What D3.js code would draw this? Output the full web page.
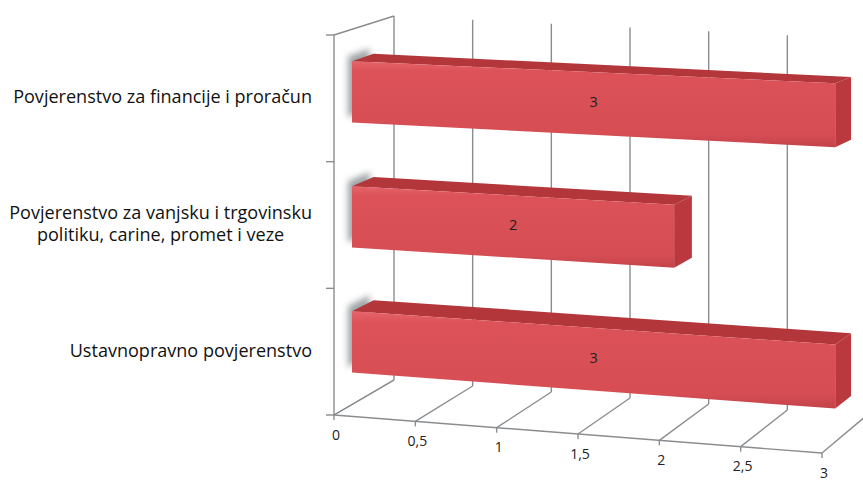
<!DOCTYPE html>
<html>
<head>
<meta charset="utf-8">
<script src="https://cdn.jsdelivr.net/npm/d3@7"></script>
<style>
  html, body { margin: 0; padding: 0; background: #ffffff; }
  svg { display: block; }
</style>
</head>
<body>
<svg id="chart" width="863" height="481"></svg>
<script>
// ---- data ----
const categories = [
  "Povjerenstvo za financije i proračun",
  "Povjerenstvo za vanjsku i trgovinsku politiku, carine, promet i veze",
  "Ustavnopravno povjerenstvo"
];
const categoryLines = [
  ["Povjerenstvo za financije i proračun"],
  ["Povjerenstvo za vanjsku i trgovinsku", "politiku, carine, promet i veze"],
  ["Ustavnopravno povjerenstvo"]
];
const values = [3, 2, 3];
const valueTicks = [0, 0.5, 1, 1.5, 2, 2.5, 3];

// ---- layout / projection ----
const svg = d3.select("#chart");
const vMax = 3;
const xFront = d3.scaleLinear().domain([0, vMax]).range([334, 822]);
const xBack = d3.scaleLinear().domain([0, vMax]).range([394, 866]);
const yFrontBottom = d3.scaleLinear().domain([0, vMax]).range([415, 453]);
const yFrontTop = d3.scaleLinear().domain([0, vMax]).range([35, 54.6]);
const yBackBottom = d3.scaleLinear().domain([0, vMax]).range([380, 416]);
const yBackTop = d3.scaleLinear().domain([0, vMax]).range([16, 39]);
const hBand = d3.scaleBand().domain(categories).range([1, 0])
  .paddingInner(0.51).paddingOuter(0.255);

const lerp = (a, b, t) => a + (b - a) * t;
function P(v, h, d) {
  const x = lerp(xFront(v), xBack(v), d);
  const yb = lerp(yFrontBottom(v), yBackBottom(v), d);
  const yt = lerp(yFrontTop(v), yBackTop(v), d);
  return [x, lerp(yb, yt, h)];
}
const poly = pts => "M" + pts.map(p => p[0].toFixed(2) + "," + p[1].toFixed(2)).join("L") + "Z";
const seg = (a, b) => "M" + a[0] + "," + a[1] + "L" + b[0] + "," + b[1];

const defs = svg.append("defs");
const blur = defs.append("filter").attr("id", "sh").attr("x", "-50%").attr("y", "-50%").attr("width", "200%").attr("height", "200%");
blur.append("feGaussianBlur").attr("stdDeviation", 3);
const grad = defs.append("linearGradient").attr("id", "frontGrad").attr("x1", 0).attr("y1", 0).attr("x2", 0).attr("y2", 1);
grad.append("stop").attr("offset", "0%").attr("stop-color", "#e6646a");
grad.append("stop").attr("offset", "12%").attr("stop-color", "#dc5258");
grad.append("stop").attr("offset", "85%").attr("stop-color", "#d64d54");
grad.append("stop").attr("offset", "100%").attr("stop-color", "#c4424a");

const gridColor = "#8a8d90";
const grid = svg.append("g").attr("fill", "none").attr("stroke", gridColor).attr("stroke-width", 1.4);

// back wall gridlines
valueTicks.forEach(v => grid.append("path").attr("d", seg(P(v, 0, 1), P(v, 1, 1))));
// left wall edges
grid.append("path").attr("d", seg(P(0, 0, 0), P(0, 1, 0)));
grid.append("path").attr("d", seg(P(0, 1, 0), P(0, 1, 1)));
grid.append("path").attr("d", seg(P(0, 0, 0), P(0, 0, 1)));
// category axis ticks
[0, 1 / 3, 2 / 3, 1].forEach(h => {
  const p = P(0, h, 0);
  grid.append("path").attr("d", seg([p[0] - 8, p[1]], p));
});
// floor
grid.append("path").attr("d", seg(P(0, 0, 0), P(vMax, 0, 0)));
valueTicks.forEach(v => {
  grid.append("path").attr("d", seg(P(v, 0, 0), P(v, 0, 1)));
  const p = P(v, 0, 0);
  grid.append("path").attr("d", seg(p, [p[0], p[1] + 5]));
});

const fontFam = "'Open Sans', Lato, sans-serif";
// value axis labels
const fmt = d3.formatLocale({decimal: ",", thousands: ".", grouping: [3], currency: ["", ""]}).format("~g");
svg.append("g").selectAll("text").data(valueTicks).join("text")
  .attr("x", v => P(v, 0, 0)[0] + 2)
  .attr("y", v => P(v, 0, 0)[1] + 21)
  .attr("text-anchor", "middle")
  .attr("dominant-baseline", "middle")
  .attr("font-family", fontFam)
  .attr("font-size", 14)
  .attr("fill", "#222")
  .text(v => fmt(v));

// bars
const d0 = 0.3, d1 = 0.66;
const bars = svg.append("g");
categories.forEach((c, i) => {
  const v = values[i];
  const h0 = hBand(c), h1 = h0 + hBand.bandwidth();
  const g = bars.append("g");
  // soft shadow at left end
  g.append("path")
    .attr("d", poly([P(0, h0, d0), P(0, h1, d0), P(0, h1, d1), P(0, h0, d1)]))
    .attr("transform", "translate(-4,-5)")
    .attr("fill", "#5f676c").attr("opacity", 0.6).attr("filter", "url(#sh)");
  // top face
  g.append("path").attr("d", poly([P(0, h1, d0), P(v, h1, d0), P(v, h1, d1), P(0, h1, d1)]))
    .attr("fill", "#b3363b");
  // side face
  g.append("path").attr("d", poly([P(v, h0, d0), P(v, h1, d0), P(v, h1, d1), P(v, h0, d1)]))
    .attr("fill", "#b9393f");
  // front face
  g.append("path").attr("d", poly([P(0, h0, d0), P(v, h0, d0), P(v, h1, d0), P(0, h1, d0)]))
    .attr("fill", "url(#frontGrad)");
  // value label
  const c0 = P(v / 2, (h0 + h1) / 2, d0);
  g.append("text").attr("x", c0[0]).attr("y", c0[1])
    .attr("text-anchor", "middle").attr("dominant-baseline", "middle")
    .attr("font-family", fontFam).attr("font-size", 14.5)
    .attr("fill", "#222").text(fmt(v));
});

// category labels (font size fitted so the first label spans the reference width)
const labelRight = 312, labelLeft = 13;
const lineH = 22;
const catG = svg.append("g")
  .attr("font-family", fontFam)
  .attr("font-size", 16).attr("fill", "#111");
const probe = catG.append("text").text(categoryLines[0][0]);
const fitSize = 16 * (labelRight - labelLeft) / probe.node().getComputedTextLength();
probe.remove();
catG.attr("font-size", fitSize);
categories.forEach((c, i) => {
  const lines = categoryLines[i];
  const yc = P(0, hBand(c) + hBand.bandwidth() / 2, 0)[1];
  const t = catG.append("text").attr("text-anchor", "middle").attr("dominant-baseline", "middle");
  lines.forEach((ln, j) => {
    t.append("tspan").attr("y", yc + (j - (lines.length - 1) / 2) * lineH).text(ln);
  });
  let wMax = 0;
  t.selectAll("tspan").each(function () { wMax = Math.max(wMax, this.getComputedTextLength()); });
  t.selectAll("tspan").attr("x", labelRight - wMax / 2);
});
</script>
</body>
</html>
